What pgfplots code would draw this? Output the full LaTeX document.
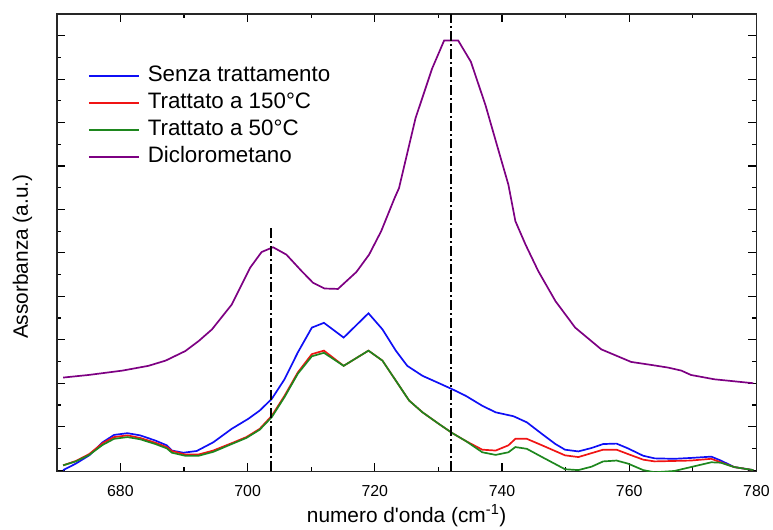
\documentclass[border=0pt]{standalone}
\usepackage{pgfplots}
\pgfplotsset{compat=1.18}
\usepackage{pgfplotstable}
\usepackage{fontspec}
\setmainfont{Liberation Sans}
\definecolor{cblue}{RGB}{15,15,245}
\definecolor{cred}{RGB}{240,20,20}
\definecolor{cgreen}{RGB}{30,135,30}
\definecolor{cpurple}{RGB}{125,0,130}

\pgfplotstableread{
x y
671.0 2.13
675.0 2.19
680.3 2.29
684.4 2.40
687.1 2.52
690.2 2.74
692.3 2.97
694.4 3.24
697.5 3.81
700.4 4.66
702.2 5.02
704.0 5.13
706.1 4.96
708.5 4.58
710.3 4.31
712.1 4.18
714.2 4.17
717.1 4.56
719.1 4.96
721.0 5.50
723.1 6.26
723.8 6.49
726.4 8.10
729.0 9.24
730.9 9.89
733.1 9.89
735.1 9.40
737.4 8.40
739.5 7.33
741.0 6.57
742.1 5.73
743.7 5.19
745.7 4.58
748.4 3.89
751.5 3.28
755.6 2.78
760.3 2.49
763.5 2.42
766.1 2.36
768.2 2.29
769.7 2.19
773.4 2.09
779.5 2.00
}\purple

\pgfplotstableread{
x y
671.0 0.00
673.0 0.15
675.1 0.34
677.2 0.64
679.0 0.81
681.1 0.85
683.1 0.80
685.5 0.68
687.3 0.57
688.1 0.45
689.9 0.40
692.0 0.44
694.6 0.64
697.5 0.95
700.1 1.18
701.9 1.37
703.8 1.64
705.8 2.09
707.9 2.71
710.1 3.28
712.0 3.39
715.1 3.05
719.0 3.61
721.2 3.24
723.3 2.75
725.1 2.40
727.5 2.17
730.1 2.00
732.2 1.86
734.3 1.71
736.9 1.48
739.0 1.33
741.8 1.24
743.9 1.10
746.3 0.83
748.4 0.60
749.9 0.47
752.0 0.43
754.1 0.51
755.9 0.60
758.0 0.61
759.8 0.50
762.2 0.33
764.0 0.27
767.1 0.26
769.7 0.28
772.9 0.31
774.4 0.22
776.5 0.07
779.5 0.00
}\blue

\pgfplotstableread{
x y
671.0 0.11
673.0 0.21
675.1 0.37
677.2 0.62
679.0 0.76
681.1 0.80
683.1 0.74
685.5 0.63
687.3 0.53
688.1 0.44
690.2 0.36
692.3 0.36
694.6 0.45
697.5 0.62
699.8 0.76
701.9 0.95
703.8 1.25
705.8 1.71
707.9 2.25
710.1 2.67
712.0 2.75
715.1 2.40
719.0 2.75
721.2 2.52
723.3 2.06
725.4 1.60
727.5 1.33
730.1 1.06
732.2 0.85
734.3 0.67
736.9 0.47
739.0 0.45
741.0 0.57
742.1 0.72
743.9 0.72
746.3 0.57
749.9 0.34
752.0 0.30
755.9 0.47
758.0 0.47
759.8 0.37
762.2 0.24
764.0 0.20
769.7 0.22
772.9 0.26
774.4 0.18
776.5 0.07
779.5 0.00
}\red

\pgfplotstableread{
x y
671.0 0.11
673.0 0.20
675.1 0.35
677.2 0.58
679.0 0.72
681.1 0.76
683.1 0.71
685.5 0.60
687.3 0.50
688.1 0.40
690.2 0.33
692.3 0.33
694.6 0.42
697.5 0.60
699.8 0.74
701.9 0.93
703.8 1.22
705.8 1.68
707.9 2.22
710.1 2.62
712.0 2.70
715.1 2.40
719.0 2.75
721.2 2.52
723.3 2.06
725.4 1.60
727.5 1.33
730.1 1.06
732.2 0.85
734.3 0.67
736.9 0.41
739.0 0.35
741.0 0.41
742.1 0.53
743.9 0.49
746.3 0.30
749.9 0.02
752.0 0.00
754.1 0.08
755.9 0.20
758.0 0.22
759.8 0.15
762.2 0.00
764.0 -0.05
767.1 -0.02
769.7 0.07
772.9 0.18
774.4 0.17
776.5 0.07
779.5 0.00
}\green

\begin{document}
\begin{tikzpicture}
\begin{axis}[
  scale only axis,
  width=702bp, height=459bp,
  xmin=670, xmax=780,
  ymin=-0.03, ymax=10.5,
  xtick={680,700,...,780},
  minor x tick num=1,
  ytick={0,1,...,10},
  minor y tick num=1,
  yticklabels={},
  major tick length=8bp,
  minor tick length=4.5bp,
  every tick/.style={black, line width=1.2bp},
  axis line style={black!85, line width=1.4bp},
  /pgf/number format/assume math mode=true,
  /pgf/number format/1000 sep={},
  xticklabel style={font=\fontsize{16}{18}\selectfont, yshift=-11bp},
  xlabel={numero d\textquotesingle onda (cm\textsuperscript{-1})},
  ylabel={Assorbanza (a.u.)},
  label style={font=\fontsize{21}{24}\selectfont},
  xlabel style={at={(axis description cs:0.5,-0.1111)}, anchor=base},
  ylabel style={at={(axis description cs:-0.0413,0.4695)}, anchor=base},
  legend style={at={(axis description cs:0.040,0.890)}, anchor=north west,
    draw=none, fill=none, font=\fontsize{22.5}{25}\selectfont,
    nodes={inner sep=0bp, text height=15bp, text depth=5bp},
    row sep=7bp, column sep=8bp},
  legend cell align=left,
  legend image code/.code={\draw[#1, line width=2bp] (0bp,0bp) -- (50bp,0bp);},
  every axis plot/.append style={line width=1.7bp},
]
\addplot[cblue] table {\blue};
\addlegendentry{Senza trattamento}
\addplot[cred] table {\red};
\addlegendentry{Trattato a 150°C}
\addplot[cgreen] table {\green};
\addlegendentry{Trattato a 50°C}
\addplot[cpurple] table {\purple};
\addlegendentry{Diclorometano}
\addplot[black, line width=1.7bp, dash pattern=on 10bp off 3bp on 2bp off 3bp, forget plot] coordinates {(703.7,-0.03) (703.7,5.6)};
\addplot[black, line width=1.7bp, dash pattern=on 10bp off 3bp on 2bp off 3bp, forget plot] coordinates {(732.0,-0.03) (732.0,10.5)};
\end{axis}
\path ([xshift=-57bp,yshift=-56bp]current axis.south west) rectangle ([xshift=14bp,yshift=14bp]current axis.north east);
\end{tikzpicture}
\end{document}
